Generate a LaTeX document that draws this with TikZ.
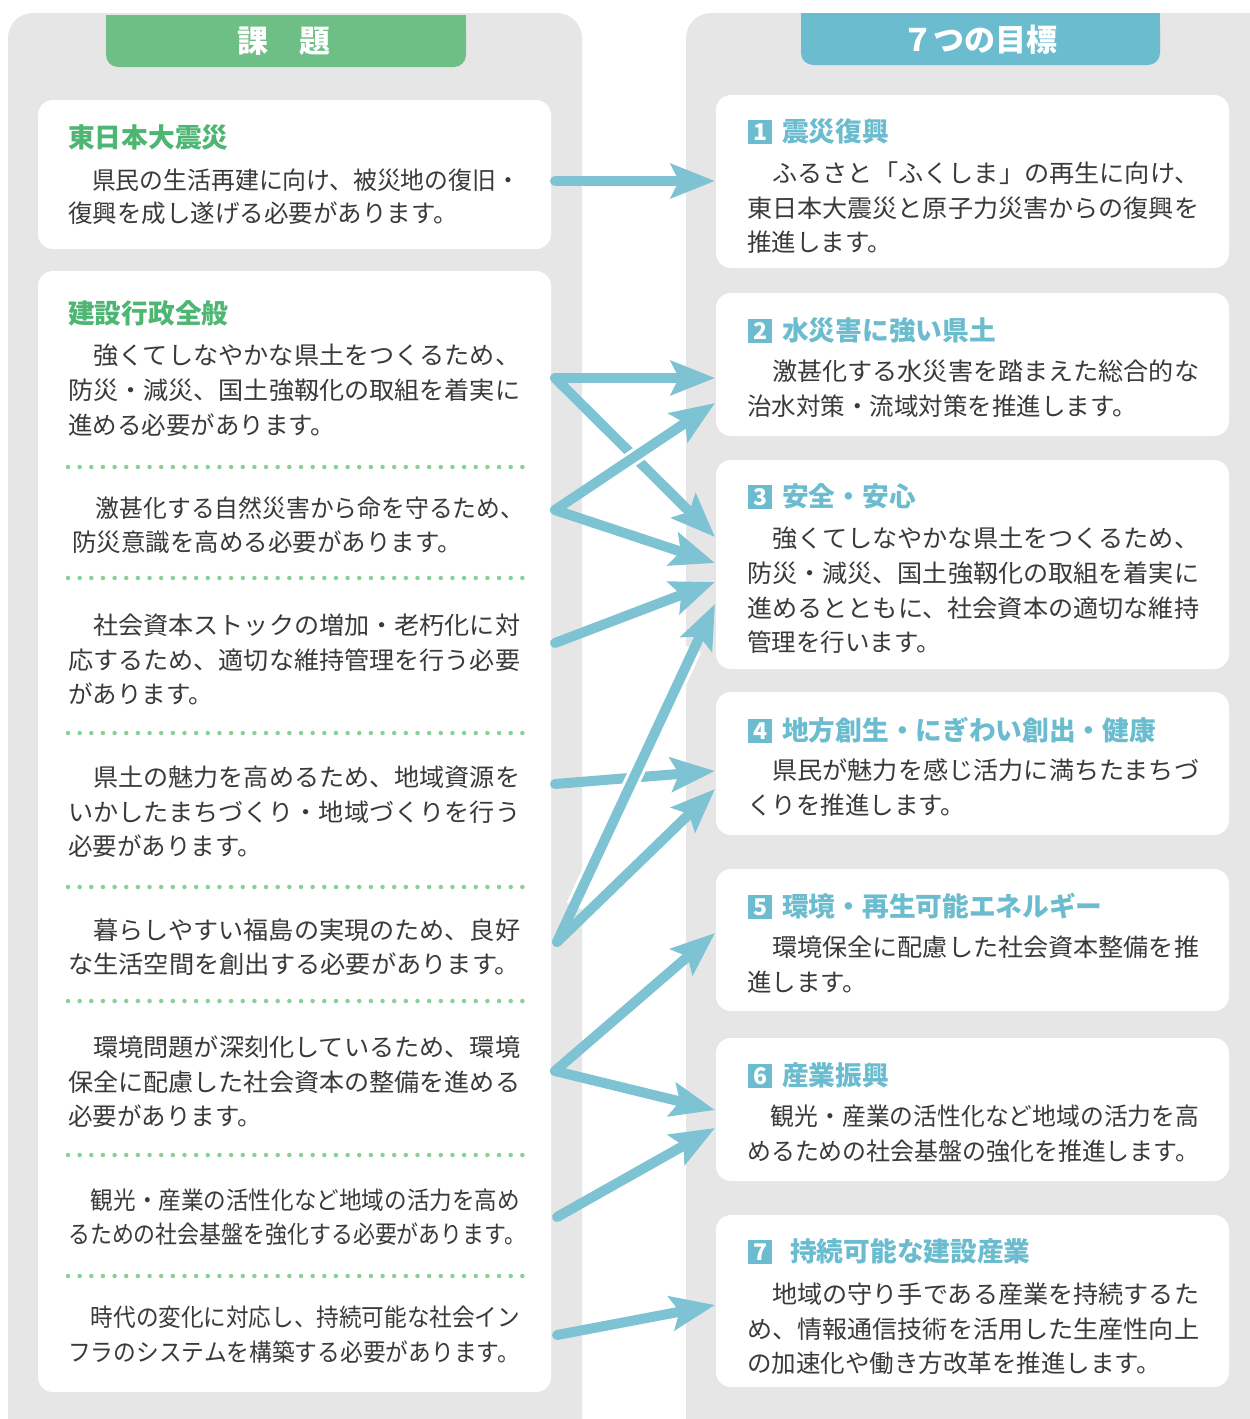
\documentclass[tikz,border=0pt]{standalone}
\usepackage{fontspec}
\usepackage{graphicx}
\setmainfont{Noto Sans CJK JP}
\usetikzlibrary{arrows.meta,fit}
\definecolor{panelgray}{HTML}{E6E6E6}
\definecolor{hgreen}{HTML}{6DBF86}
\definecolor{tgreen}{HTML}{4DB672}
\definecolor{hblue}{HTML}{6BBCCF}
\definecolor{arrc}{HTML}{7DC3D3}
\definecolor{dotg}{HTML}{88D09A}
\definecolor{txtc}{HTML}{3A3A3A}
\tikzset{
  body/.style={anchor=base west, inner sep=0pt, text=txtc, font=\fontsize{24.5}{24.5}\selectfont},
  lhead/.style={anchor=base west, inner sep=0pt, text=tgreen, font=\bfseries\fontsize{26.7}{26.7}\selectfont},
  rhead/.style={anchor=base west, inner sep=0pt, text=hblue, font=\bfseries\fontsize{26.7}{26.7}\selectfont},
  badge/.style={fill=hblue, minimum size=24pt, inner sep=0pt, text=white, font=\bfseries\fontsize{23}{23}\selectfont},
  htext/.style={text=white, inner sep=0pt, font=\bfseries\fontsize{31}{31}\selectfont},
  wbox/.style={fill=white, rounded corners=15pt, inner sep=0pt, draw=none},
  dotline/.style={dotg, line width=4.5pt, line cap=round, dash pattern=on 0pt off 11.65pt},
  conn/.style={draw=arrc, line width=10pt, line cap=round, -{Stealth[length=44pt,width=34pt,inset=8pt]}},
  gap/.style={draw=white, line width=16pt, shorten <=40pt, shorten >=50pt}
}
\newcommand\fl[4]{\node[body] (#1) at (#2,#3+9) {\resizebox{452pt}{\height}{#4}};}
\newcommand\fw[5]{\node[body] (#1) at (#2,#3+9) {\resizebox{#4pt}{\height}{#5}};}
\newcommand\pl[4]{\node[body] (#1) at (#2,#3+9) {#4};}
\begin{document}
\begin{tikzpicture}[x=1pt,y=-1pt]
\path[use as bounding box] (0,0) rectangle (1250,1419);
\clip (0,0) rectangle (1250,1419);
\fill[white] (0,0) rectangle (1250,1419);
% panels
\fill[panelgray, rounded corners=25pt] (8,13) rectangle (582,1460);
\fill[panelgray, rounded corners=25pt] (686,13) rectangle (1275,1460);
% headers
\node[fill=hgreen, rounded corners=12pt, inner sep=0pt, fit={(106,15) (466,67)}] (hg) {};
\fill[hgreen] (106,15) rectangle (466,40);
\node[htext] (hgt) at (284,41) {課　題};
\node[fill=hblue, rounded corners=12pt, inner sep=0pt, fit={(801,13) (1160,65)}] (hb) {};
\fill[hblue] (801,13) rectangle (1160,40);
\node[htext] (hbt) at (980,40) {７つの目標};
% left boxes
\node[wbox, fit={(38,100) (551,249)}] (k1) {};
\node[wbox, fit={(38,271) (551,1392)}] (k2) {};
% right boxes
\node[wbox, fit={(716,95) (1229,268)}] (g1) {};
\node[wbox, fit={(716,293) (1229,436)}] (g2) {};
\node[wbox, fit={(716,460) (1229,669)}] (g3) {};
\node[wbox, fit={(716,692) (1229,835)}] (g4) {};
\node[wbox, fit={(716,869) (1229,1011)}] (g5) {};
\node[wbox, fit={(716,1038) (1229,1181)}] (g6) {};
\node[wbox, fit={(716,1215) (1229,1387)}] (g7) {};
% left texts
\node[lhead] (lh1) at (68,137+10) {東日本大震災};
\fl{l1a}{68}{180}{　県民の生活再建に向け、被災地の復旧・}
\pl{l1b}{68}{213}{復興を成し遂げる必要があります。}
\node[lhead] (lh2) at (68,313+10) {建設行政全般};
\fl{l2a}{68}{355}{　強くてしなやかな県土をつくるため、}
\fl{l2b}{68}{390}{防災・減災、国土強靱化の取組を着実に}
\pl{l2c}{68}{425}{進める必要があります。}
\draw[dotline] (68,467) -- (524,467);
\fl{l3a}{72}{508}{　激甚化する自然災害から命を守るため、}
\pl{l3b}{72}{542}{防災意識を高める必要があります。}
\draw[dotline] (68,578) -- (524,578);
\fl{l4a}{68}{625}{　社会資本ストックの増加・老朽化に対}
\fl{l4b}{68}{660}{応するため、適切な維持管理を行う必要}
\pl{l4c}{68}{694}{があります。}
\draw[dotline] (68,733) -- (524,733);
\fl{l5a}{68}{777}{　県土の魅力を高めるため、地域資源を}
\fl{l5b}{68}{812}{いかしたまちづくり・地域づくりを行う}
\pl{l5c}{68}{846}{必要があります。}
\draw[dotline] (68,887) -- (524,887);
\fl{l6a}{68}{930}{　暮らしやすい福島の実現のため、良好}
\fl{l6b}{68}{964}{な生活空間を創出する必要があります。}
\draw[dotline] (68,1001) -- (524,1001);
\fl{l7a}{68}{1047}{　環境問題が深刻化しているため、環境}
\fl{l7b}{68}{1082}{保全に配慮した社会資本の整備を進める}
\pl{l7c}{68}{1116}{必要があります。}
\draw[dotline] (68,1155) -- (524,1155);
\fl{l8a}{68}{1200}{　観光・産業の活性化など地域の活力を高め}
\fw{l8b}{68}{1234}{458}{るための社会基盤を強化する必要があります。}
\draw[dotline] (68,1276) -- (524,1276);
\fl{l9a}{68}{1317}{　時代の変化に対応し、持続可能な社会イン}
\fl{l9b}{68}{1352}{フラのシステムを構築する必要があります。}
% right texts
\node[badge] (b1) at (760,132) {1};
\node[rhead] (rh1) at (782,131+10) {震災復興};
\fl{r1a}{747}{173}{　ふるさと「ふくしま」の再生に向け、}
\fl{r1b}{747}{208}{東日本大震災と原子力災害からの復興を}
\pl{r1c}{747}{242}{推進します。}
\node[badge] (b2) at (760,331) {2};
\node[rhead] (rh2) at (782,330+10) {水災害に強い県土};
\fl{r2a}{747}{371}{　激甚化する水災害を踏まえた総合的な}
\pl{r2b}{747}{406}{治水対策・流域対策を推進します。}
\node[badge] (b3) at (760,497) {3};
\node[rhead] (rh3) at (782,496+10) {安全・安心};
\fl{r3a}{747}{538}{　強くてしなやかな県土をつくるため、}
\fl{r3b}{747}{573}{防災・減災、国土強靱化の取組を着実に}
\fl{r3c}{747}{608}{進めるとともに、社会資本の適切な維持}
\pl{r3d}{747}{642}{管理を行います。}
\node[badge] (b4) at (760,731) {4};
\node[rhead] (rh4) at (782,730+10) {地方創生・にぎわい創出・健康};
\fl{r4a}{747}{770}{　県民が魅力を感じ活力に満ちたまちづ}
\pl{r4b}{747}{805}{くりを推進します。}
\node[badge] (b5) at (760,907) {5};
\node[rhead] (rh5) at (782,906+10) {環境・再生可能エネルギー};
\fl{r5a}{747}{947}{　環境保全に配慮した社会資本整備を推}
\pl{r5b}{747}{982}{進します。}
\node[badge] (b6) at (760,1076) {6};
\node[rhead] (rh6) at (782,1075+10) {産業振興};
\fl{r6a}{747}{1116}{　観光・産業の活性化など地域の活力を高}
\fl{r6b}{747}{1151}{めるための社会基盤の強化を推進します。}
\node[badge] (b7) at (760,1252) {7};
\node[rhead] (rh7) at (790,1251+10) {持続可能な建設産業};
\fl{r7a}{747}{1294}{　地域の守り手である産業を持続するた}
\fl{r7b}{747}{1329}{め、情報通信技術を活用した生産性向上}
\pl{r7c}{747}{1363}{の加速化や働き方改革を推進します。}
% connector coordinates
\coordinate (s1) at (555,181);  \coordinate (e1) at (715,181);
\coordinate (s2) at (555,378);  \coordinate (e2a) at (715,378); \coordinate (e2b) at (715,537);
\coordinate (s3) at (555,510);  \coordinate (e3a) at (715,403); \coordinate (e3b) at (715,563);
\coordinate (s4) at (555,643);  \coordinate (e4) at (715,582);
\coordinate (s5) at (555,784);  \coordinate (e5) at (715,771);
\coordinate (s6) at (557,942);  \coordinate (e6a) at (715,604); \coordinate (e6b) at (715,789);
\coordinate (s7) at (555,1071); \coordinate (e7a) at (715,933); \coordinate (e7b) at (715,1110);
\coordinate (s8) at (557,1217); \coordinate (e8) at (715,1128);
\coordinate (s9) at (557,1335); \coordinate (e9) at (715,1305);
% connectors
\draw[conn] (s1) -- (e1);
\draw[conn] (s2) -- (e2a);
\draw[conn] (s2) -- (e2b);
\draw[conn] (s3) -- (e3b);
\draw[gap] (s3) -- (e3a);
\draw[conn] (s3) -- (e3a);
\draw[conn] (s4) -- (e4);
\draw[conn] (s5) -- (e5);
\draw[conn] (s6) -- (e6b);
\draw[gap] (s6) -- (e6a);
\draw[conn] (s6) -- (e6a);
\draw[conn] (s7) -- (e7a);
\draw[conn] (s7) -- (e7b);
\draw[conn] (s8) -- (e8);
\draw[conn] (s9) -- (e9);
\end{tikzpicture}
\end{document}
